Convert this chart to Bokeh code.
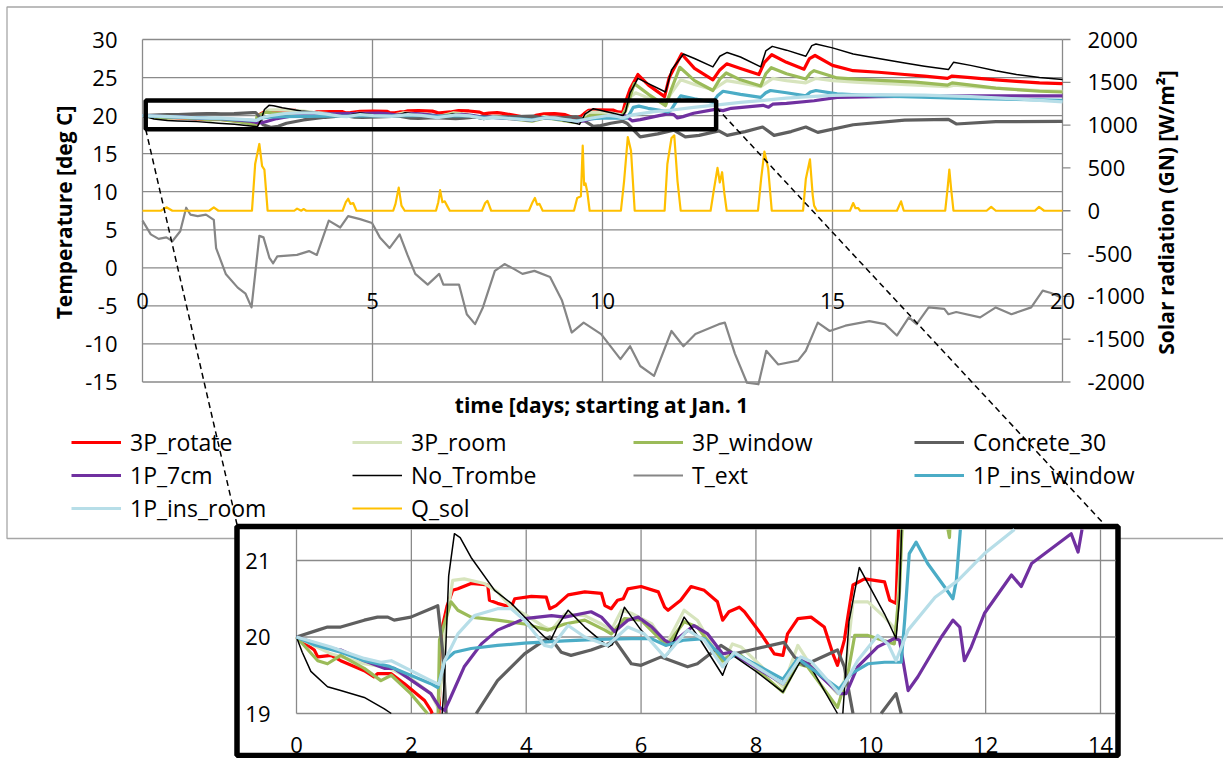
import math
import numpy as np
from bokeh.plotting import figure
from bokeh.models import Range1d, Legend, LegendItem
from bokeh.core.properties import value
from bokeh.embed import file_html
from bokeh.resources import INLINE

# ---------------- data (day, value) ----------------
ROTATE = [(0, 20.0), (0.31, 19.83), (0.37, 19.74), (0.6, 19.76), (0.77, 19.69), (1.18, 19.56), (1.35, 19.48),
          (1.41, 19.52), (1.65, 19.52), (1.88, 19.39), (2.23, 19.17), (2.34, 19.04), (2.42, 18.9), (2.47, 18.8),
          (2.5, 19.4), (2.53, 20.1), (2.62, 20.4), (2.72, 20.61), (2.81, 20.63), (3.04, 20.7), (3.33, 20.68),
          (3.36, 20.48), (3.5, 20.44), (3.74, 20.39), (3.8, 20.5), (4.09, 20.53), (4.35, 20.52), (4.41, 20.37),
          (4.52, 20.41), (4.73, 20.55), (5.02, 20.59), (5.31, 20.57), (5.37, 20.41), (5.48, 20.37), (5.59, 20.48),
          (5.69, 20.5), (5.77, 20.63), (6.0, 20.66), (6.3, 20.59), (6.41, 20.39), (6.47, 20.35), (6.69, 20.48),
          (6.87, 20.66), (7.1, 20.61), (7.33, 20.46), (7.42, 20.22), (7.53, 20.33), (7.71, 20.39), (7.8, 20.33),
          (8.09, 20.04), (8.32, 19.78), (8.47, 19.76), (8.55, 20.04), (8.73, 20.24), (8.96, 20.26), (9.19, 20.13),
          (9.34, 19.78), (9.42, 19.63), (9.54, 19.96), (9.6, 20.26), (9.69, 20.68), (9.89, 20.76), (10.24, 20.72),
          (10.33, 20.48), (10.44, 20.44), (10.5, 21.8), (10.6, 23.5), (10.77, 25.4), (11.0, 24.0), (11.35, 22.5),
          (11.45, 25.0), (11.72, 28.1), (12.0, 26.2), (12.4, 24.7), (12.55, 26.0), (12.7, 26.8), (13.0, 26.2),
          (13.4, 25.4), (13.52, 27.0), (13.68, 28.0), (14.0, 27.0), (14.38, 26.1), (14.5, 27.5), (14.62, 27.9),
          (15.0, 26.6), (15.45, 25.9), (16.0, 25.7), (16.57, 25.4), (17.0, 25.2), (17.5, 24.9), (17.6, 25.2),
          (18.0, 25.0), (18.55, 24.7), (19.0, 24.5), (19.5, 24.3), (20.0, 24.2)]

ROOM = [(0, 20.0), (0.6, 19.78), (1.18, 19.65), (1.59, 19.6), (2.0, 19.45), (2.34, 19.26), (2.46, 19.08),
        (2.52, 19.4), (2.58, 20.09), (2.72, 20.74), (2.92, 20.76), (3.27, 20.7), (3.5, 20.59), (3.74, 20.39),
        (3.97, 20.3), (4.32, 20.13), (4.44, 20.09), (4.67, 20.3), (5.02, 20.28), (5.31, 20.17), (5.48, 20.09),
        (5.66, 20.35), (5.83, 20.31), (6.19, 20.17), (6.43, 19.89), (6.75, 20.35), (6.98, 20.22), (7.42, 19.65),
        (7.59, 19.91), (7.74, 19.87), (8.47, 19.35), (8.73, 19.89), (8.9, 19.69), (9.42, 19.26), (9.54, 19.43),
        (9.69, 20.46), (9.95, 20.46), (10.24, 20.26), (10.44, 20.09), (10.5, 20.8), (10.62, 22.5), (10.72, 23.0),
        (11.0, 22.3), (11.37, 21.6), (11.5, 23.0), (11.7, 24.7), (12.0, 24.1), (12.4, 23.4), (12.7, 24.6),
        (13.0, 24.3), (13.44, 23.8), (13.7, 24.9), (14.0, 24.6), (14.42, 24.3), (14.64, 24.9), (15.0, 24.6),
        (15.5, 24.4), (16.5, 24.1), (17.5, 23.8), (17.65, 24.0), (18.5, 23.6), (19.5, 23.3), (20.0, 23.2)]

WINDOW = [(0, 20.0), (0.37, 19.69), (0.54, 19.65), (0.77, 19.76), (1.18, 19.59), (1.47, 19.43), (1.65, 19.5),
          (1.99, 19.26), (2.28, 19.0), (2.4, 18.8), (2.46, 18.75), (2.49, 19.96), (2.69, 20.46), (2.81, 20.35),
          (3.04, 20.26), (3.5, 20.22), (3.97, 20.17), (4.38, 20.09), (4.67, 20.17), (5.02, 20.22), (5.37, 20.09),
          (5.48, 20.04), (5.71, 20.24), (6.0, 20.22), (6.35, 19.96), (6.47, 19.91), (6.75, 20.2), (6.98, 20.13),
          (7.42, 19.69), (7.59, 19.78), (7.74, 19.76), (8.47, 19.28), (8.73, 19.65), (8.9, 19.61), (9.42, 19.08),
          (9.6, 19.52), (9.72, 20.02), (9.95, 20.02), (10.41, 19.91), (10.5, 20.6), (10.6, 22.5), (10.69, 24.2),
          (11.0, 22.8), (11.37, 21.3), (11.5, 23.5), (11.68, 26.35), (12.0, 24.6), (12.4, 23.3), (12.55, 24.8),
          (12.69, 25.6), (13.0, 24.7), (13.44, 23.9), (13.55, 25.5), (13.67, 26.3), (14.0, 25.5), (14.42, 24.8),
          (14.52, 25.6), (14.6, 25.9), (15.1, 24.95), (15.5, 24.8), (16.8, 24.4), (17.5, 24.0), (17.6, 24.3),
          (18.55, 23.6), (19.5, 23.2), (20.0, 23.1)]

CONCRETE = [(0, 20.0), (0.37, 20.09), (0.54, 20.13), (0.77, 20.13), (1.18, 20.22), (1.41, 20.26), (1.59, 20.26),
            (1.7, 20.22), (1.99, 20.26), (2.4, 20.39), (2.46, 20.41), (2.55, 19.78), (2.62, 18.8), (2.8, 18.45),
            (2.95, 18.6), (3.13, 19.0), (3.5, 19.43), (3.97, 19.78), (4.32, 19.96), (4.41, 20.0), (4.61, 19.8),
            (4.78, 19.76), (5.13, 19.83), (5.42, 19.91), (5.55, 19.95), (5.83, 19.65), (6.0, 19.63), (6.35, 19.74),
            (6.81, 19.61), (6.98, 19.65), (7.39, 19.89), (7.62, 19.78), (7.91, 19.83), (8.49, 19.93), (8.67, 19.74),
            (8.84, 19.63), (9.42, 19.83), (9.54, 19.61), (9.69, 19.0), (9.8, 18.6), (9.96, 18.68), (10.18, 19.0),
            (10.44, 19.26), (10.53, 19.0), (10.82, 17.2), (11.2, 17.6), (11.55, 18.1), (11.8, 17.2), (12.1, 17.4),
            (12.53, 18.0), (12.71, 17.4), (13.1, 17.9), (13.48, 18.5), (13.73, 17.4), (14.1, 17.9), (14.42, 18.5),
            (14.68, 17.8), (15.45, 18.8), (16.57, 19.4), (17.52, 19.5), (17.69, 18.9), (18.55, 19.2), (20.0, 19.25)]

P7CM = [(0, 20.0), (0.6, 19.85), (0.77, 19.83), (1.18, 19.69), (1.53, 19.59), (1.7, 19.59), (2.34, 19.26),
        (2.49, 19.08), (2.58, 19.04), (2.66, 19.17), (2.92, 19.61), (3.22, 19.91), (3.5, 20.09), (3.97, 20.24),
        (4.44, 20.28), (4.67, 20.26), (5.13, 20.33), (5.31, 20.26), (5.54, 20.07), (5.77, 20.22), (5.95, 20.26),
        (6.19, 20.13), (6.41, 19.96), (6.52, 19.91), (6.92, 20.15), (7.16, 20.04), (7.42, 19.78), (7.56, 19.8),
        (8.47, 19.39), (8.73, 19.72), (8.9, 19.65), (9.45, 19.26), (9.57, 19.26), (9.77, 19.61), (10.12, 19.87),
        (10.41, 19.98), (10.5, 19.96), (10.65, 19.3), (10.82, 19.48), (11.23, 20.0), (11.43, 20.22), (11.55, 20.13),
        (11.63, 19.69), (11.75, 19.87), (11.98, 20.31), (12.45, 20.81), (12.62, 20.66), (12.8, 20.96),
        (13.49, 21.35), (13.61, 21.11), (13.7, 21.5), (14.0, 21.6), (14.6, 21.95), (15.1, 22.4), (16.0, 22.5),
        (17.0, 22.55), (18.0, 22.6), (19.0, 22.6), (20.0, 22.6)]

NO_TROMBE = [(0, 20.0), (0.1, 19.8), (0.25, 19.55), (0.54, 19.35), (0.77, 19.3), (1.18, 19.21), (1.53, 19.06),
             (1.65, 19.0), (2.0, 18.85), (2.4, 18.6), (2.5, 18.55), (2.58, 19.5), (2.65, 20.8), (2.75, 21.35),
             (2.85, 21.3), (3.04, 21.04), (3.45, 20.61), (3.74, 20.44), (4.09, 20.17), (4.32, 20.0), (4.42, 19.95),
             (4.55, 20.15), (4.73, 20.35), (5.02, 20.13), (5.43, 19.87), (5.5, 19.9), (5.71, 20.39), (6.0, 20.09),
             (6.41, 19.74), (6.47, 19.78), (6.75, 20.26), (7.0, 20.0), (7.42, 19.5), (7.56, 19.78), (8.0, 19.55),
             (8.47, 19.28), (8.78, 19.69), (8.96, 19.6), (9.42, 19.0), (9.5, 18.85), (9.62, 20.2), (9.8, 20.91),
             (10.24, 20.3), (10.44, 19.98), (10.5, 20.5), (10.6, 23.0), (10.77, 24.9), (11.0, 24.2), (11.37, 23.1),
             (11.5, 26.0), (11.76, 28.1), (12.0, 27.5), (12.4, 26.4), (12.55, 27.8), (12.71, 28.3), (13.0, 27.7),
             (13.44, 26.4), (13.55, 28.5), (13.69, 29.1), (14.0, 28.6), (14.42, 27.8), (14.55, 29.2), (14.64, 29.4),
             (15.0, 28.9), (15.45, 28.1), (16.0, 27.5), (16.57, 26.9), (17.0, 26.5), (17.52, 26.05), (17.63, 27.0),
             (18.0, 26.6), (18.55, 25.9), (19.0, 25.4), (19.5, 25.0), (20.0, 24.74)]

T_EXT = [(0.0, 6.2), (0.18, 4.4), (0.35, 3.8), (0.52, 4.0), (0.65, 3.5), (0.82, 4.8), (0.95, 7.9), (1.04, 7.0),
         (1.2, 6.8), (1.38, 7.0), (1.55, 6.3), (1.6, 2.6), (1.81, -0.8), (2.07, -2.6), (2.24, -3.4), (2.37, -5.2),
         (2.45, -0.8), (2.54, 4.2), (2.63, 4.0), (2.76, 1.3), (2.84, 0.6), (2.93, 1.5), (3.36, 1.7), (3.62, 2.2),
         (3.79, 1.7), (4.05, 6.2), (4.3, 5.3), (4.47, 6.8), (4.73, 6.4), (4.99, 5.9), (5.16, 4.0), (5.37, 2.6),
         (5.59, 4.4), (5.76, 1.7), (5.93, -0.8), (6.2, -2.2), (6.45, -0.8), (6.54, -2.2), (6.88, -2.2), (7.05, -6.1),
         (7.23, -7.4), (7.4, -5.2), (7.66, -0.4), (7.87, 0.5), (8.09, -0.2), (8.26, -0.8), (8.52, -0.4),
         (8.86, -1.2), (9.12, -4.3), (9.33, -8.5), (9.59, -7.2), (9.97, -8.7), (10.39, -12.0), (10.6, -10.3),
         (10.82, -12.9), (11.12, -14.2), (11.5, -8.3), (11.76, -10.3), (12.02, -8.7), (12.53, -7.4), (12.66, -7.2),
         (12.88, -11.3), (13.14, -15.1), (13.39, -15.3), (13.56, -10.9), (13.82, -12.7), (14.25, -12.2),
         (14.42, -10.9), (14.68, -7.2), (14.94, -8.3), (15.28, -7.6), (15.8, -7.0), (16.14, -7.4), (16.4, -8.9),
         (16.66, -6.5), (16.83, -7.4), (17.09, -5.2), (17.43, -5.4), (17.52, -6.1), (17.69, -5.8), (18.21, -6.5),
         (18.55, -5.2), (18.89, -6.1), (19.32, -5.2), (19.57, -3.0), (19.75, -3.3), (19.97, -3.9)]

INS_WINDOW = [(0, 20.0), (0.3, 19.9), (0.77, 19.8), (1.18, 19.69), (1.6, 19.62), (2.34, 19.39), (2.46, 19.34),
              (2.58, 19.69), (2.75, 19.8), (3.04, 19.85), (3.5, 19.89), (3.97, 19.92), (4.67, 19.95), (5.25, 19.97),
              (5.83, 19.98), (6.17, 19.98), (6.43, 19.89), (6.75, 19.96), (7.1, 19.98), (7.48, 19.69), (7.65, 19.78),
              (8.47, 19.45), (8.73, 19.72), (9.45, 19.32), (9.66, 19.52), (9.95, 19.65), (10.24, 19.67),
              (10.53, 19.67), (10.59, 20.22), (10.67, 21.09), (10.79, 21.24), (10.99, 20.96), (11.28, 20.66),
              (11.43, 20.5), (11.49, 20.74), (11.58, 21.6), (11.7, 22.6), (12.0, 22.2), (12.4, 21.75), (12.5, 22.6),
              (12.62, 23.2), (13.0, 22.8), (13.44, 22.4), (13.55, 23.0), (13.65, 23.3), (14.0, 23.0), (14.42, 22.6),
              (14.52, 23.1), (14.64, 23.3), (15.1, 22.85), (15.96, 22.6), (17.7, 22.3), (20.0, 22.0)]

INS_ROOM = [(0, 20.0), (0.6, 19.87), (1.18, 19.72), (1.47, 19.67), (1.65, 19.69), (2.34, 19.43), (2.48, 19.38),
            (2.58, 19.69), (2.81, 20.04), (3.1, 20.28), (3.5, 20.37), (3.74, 20.37), (3.97, 20.22), (4.32, 19.89),
            (4.44, 19.87), (4.73, 20.15), (5.02, 20.0), (5.42, 19.89), (5.77, 20.13), (6.06, 20.04), (6.41, 19.74),
            (6.81, 20.09), (7.1, 19.96), (7.42, 19.61), (7.62, 19.8), (8.47, 19.39), (8.78, 19.74), (8.96, 19.68),
            (9.45, 19.26), (9.77, 19.69), (10.12, 20.02), (10.3, 19.91), (10.44, 19.69), (10.65, 20.09),
            (11.12, 20.52), (11.52, 20.74), (11.98, 21.09), (12.56, 21.44), (13.0, 21.75), (13.5, 22.0),
            (14.0, 22.3), (14.5, 22.5), (15.0, 22.65), (16.0, 22.75), (17.0, 22.7), (18.0, 22.5), (19.0, 22.2),
            (20.0, 21.8)]

Q_SOL = [(0, 0), (0.4, 0), (0.52, 40), (0.65, 0), (1.45, 0), (1.55, 40), (1.65, 0), (2.38, 0), (2.45, 550),
         (2.54, 780), (2.6, 520), (2.65, 480), (2.72, 0), (3.3, 0), (3.36, 25), (3.45, 0), (3.5, 20), (3.56, 0),
         (4.35, 0), (4.42, 100), (4.47, 140), (4.52, 80), (4.58, 90), (4.65, 0), (5.45, 0), (5.5, 80), (5.57, 270),
         (5.63, 60), (5.7, 0), (6.38, 0), (6.43, 100), (6.47, 240), (6.52, 100), (6.57, 110), (6.62, 60),
         (6.68, 0), (7.38, 0), (7.45, 90), (7.5, 115), (7.58, 0), (8.4, 0), (8.48, 100), (8.53, 150), (8.58, 70),
         (8.63, 80), (8.7, 0), (9.38, 0), (9.45, 150), (9.53, 170), (9.57, 760), (9.6, 300), (9.63, 320),
         (9.67, 220), (9.72, 0), (10.4, 0), (10.47, 350), (10.55, 860), (10.62, 700), (10.7, 0), (11.35, 0),
         (11.41, 546), (11.5, 850), (11.56, 880), (11.63, 350), (11.7, 0), (12.35, 0), (12.42, 240), (12.5, 500),
         (12.55, 330), (12.6, 450), (12.65, 200), (12.7, 0), (13.38, 0), (13.45, 380), (13.52, 690), (13.6, 500),
         (13.68, 0), (14.36, 0), (14.42, 370), (14.51, 600), (14.57, 180), (14.6, 60), (14.66, 0), (15.38, 0),
         (15.45, 90), (15.5, 30), (15.56, 30), (15.6, 0), (16.4, 0), (16.49, 110), (16.55, 0), (17.45, 0),
         (17.5, 250), (17.54, 480), (17.58, 250), (17.63, 0), (18.35, 0), (18.45, 45), (18.55, 0), (19.4, 0),
         (19.49, 45), (19.6, 0), (20.0, 0)]

SERIES = ["3P_rotate", "3P_room", "3P_window", "Concrete_30", "1P_7cm", "No_Trombe", "T_ext",
          "1P_ins_window", "1P_ins_room", "Q_sol"]
DATA = [ROTATE, ROOM, WINDOW, CONCRETE, P7CM, NO_TROMBE, T_EXT, INS_WINDOW, INS_ROOM, Q_SOL]
COLORS = ["#ff0000", "#d7e4bd", "#9bbb59", "#5f5f5f", "#7030a0", "#000000", "#868686",
          "#4bacc6", "#b7dee8", "#ffc000"]
WIDTHS = [3.2, 3.2, 3.2, 3.2, 3.2, 1.5, 2.2, 3.2, 3.2, 2.2]
INSET_SERIES = ["3P_rotate", "3P_room", "3P_window", "Concrete_30", "1P_7cm", "No_Trombe",
                "1P_ins_window", "1P_ins_room"]

X_TICKS = [0, 5, 10, 15, 20]
T_TICKS = [30, 25, 20, 15, 10, 5, 0, -5, -10, -15]
Q_TICKS = [2000, 1500, 1000, 500, 0, -500, -1000, -1500, -2000]
X_AXIS_CROSS_Q = -1000
ZOOM_DAYS = [0.07, 12.47]
ZOOM_TEMPS = [18.2, 22.0]
ZOOM_LINK_T = 21.1
I_X_TICKS = [0, 2, 4, 6, 8, 10, 12, 14]
I_T_TICKS = [19, 20, 21]
I_DAYS = [0, 14.26]
I_TEMPS = [19, 21.405]

# ---------------- layout ----------------
FONT = "Open Sans"
W, H = 1223, 758
OX, OY = 0, 0
GRID = "#8a8a8a"

p = figure(width=W, height=H, x_range=Range1d(OX, OX + W), y_range=Range1d(OY + H, OY),
           x_axis_location=None, y_axis_location=None, toolbar_location=None,
           output_backend="svg", min_border=0, title=None)
p.xgrid.visible = False
p.ygrid.visible = False
p.outline_line_color = None


def lin_range(va, pa, vb, pb, lo, hi):
    k = (vb - va) / (pb - pa)
    return Range1d(start=va + k * (lo - pa), end=va + k * (hi - pa))


# main: day 0 -> px 142, day 20 -> px 1062 ; T 30 -> py 39, T -15 -> py 381.5
MAIN_PX = (142, 1062)
MAIN_PY = (39, 381.5)
INS_PX = (296, 1100)
INS_PY = (560, 713)   # T 21, T 19
p.extra_x_ranges = {
    "mx": lin_range(0, MAIN_PX[0], 20, MAIN_PX[1], OX, OX + W),
    "ix": lin_range(0, INS_PX[0], 14, INS_PX[1], OX, OX + W),
}
p.extra_y_ranges = {
    "my": lin_range(30, MAIN_PY[0], -15, MAIN_PY[1], OY + H, OY),
    "qy": lin_range(2000, MAIN_PY[0], -2000, MAIN_PY[1], OY + H, OY),
    "iy": lin_range(21, INS_PY[0], 19, INS_PY[1], OY + H, OY),
}


def main_px(d):
    return MAIN_PX[0] + (MAIN_PX[1] - MAIN_PX[0]) * d / 20.0


def main_py(t):
    return MAIN_PY[0] + (MAIN_PY[1] - MAIN_PY[0]) * (30 - t) / 45.0


# outer chart border
p.quad(left=[6.5], right=[1240], top=[6.5], bottom=[538], fill_color=None,
       line_color="#a6a6a6", line_width=1.3)

# main grid
p.segment(x0=X_TICKS, y0=[-15] * len(X_TICKS), x1=X_TICKS, y1=[30] * len(X_TICKS),
          x_range_name="mx", y_range_name="my", line_color=GRID, line_width=1.3)
p.segment(x0=[0] * len(T_TICKS), y0=T_TICKS, x1=[20] * len(T_TICKS), y1=T_TICKS,
          x_range_name="mx", y_range_name="my", line_color=GRID, line_width=1.3)
p.ray(x=[20] * len(Q_TICKS), y=Q_TICKS, length=8, length_units="screen", angle=0,
      x_range_name="mx", y_range_name="qy", line_color=GRID, line_width=1.3)

# main series
renderers = {}
for name, dat, col, lw in zip(SERIES, DATA, COLORS, WIDTHS):
    arr = np.array(dat, dtype=float)
    yr = "qy" if name == "Q_sol" else "my"
    renderers[name] = p.line(arr[:, 0], arr[:, 1], x_range_name="mx", y_range_name=yr,
                             line_color=col, line_width=lw, line_join="round")

# zoom rectangle
p.quad(left=[ZOOM_DAYS[0]], right=[ZOOM_DAYS[1]], bottom=[ZOOM_TEMPS[0]], top=[ZOOM_TEMPS[1]],
       x_range_name="mx", y_range_name="my", fill_color=None, line_color="black", line_width=4.5)

# tick labels
TXT = dict(text_font=value(FONT), text_font_size="22px", text_color="black", text_baseline="middle")
p.text(x=[0] * len(T_TICKS), y=T_TICKS, text=[str(t) for t in T_TICKS], x_range_name="mx",
       y_range_name="my", x_offset=-25, text_align="right", **TXT)
p.text(x=[20] * len(Q_TICKS), y=Q_TICKS, text=[str(q) for q in Q_TICKS], x_range_name="mx",
       y_range_name="qy", x_offset=25, text_align="left", **TXT)
p.text(x=X_TICKS, y=[X_AXIS_CROSS_Q] * len(X_TICKS), text=[str(x) for x in X_TICKS],
       x_range_name="mx", y_range_name="qy", y_offset=5, text_align="center", **TXT)

# axis titles
TTL = dict(text_font=value(FONT), text_font_size="21px", text_font_style="bold", text_color="black",
           text_baseline="middle", text_align="center")
p.text(x=[63], y=[212], text=["Temperature [deg C]"], angle=math.pi / 2, **TTL)
p.text(x=[1165], y=[212], text=["Solar radiation (GN) [W/m\u00b2]"], angle=math.pi / 2, **TTL)
p.text(x=[601], y=[404], text=["time [days; starting at Jan. 1"], **TTL)

# inset box
BOX = dict(left=236.5, right=1117.5, top=526, bottom=755)
p.quad(left=[BOX["left"]], right=[BOX["right"]], top=[BOX["top"]], bottom=[BOX["bottom"]],
       fill_color="white", line_color="black", line_width=5.5)

# dashed links
p.line([main_px(ZOOM_DAYS[0]), BOX["left"]], [main_py(ZOOM_TEMPS[0]), BOX["top"] - 2],
       line_color="black", line_width=1.5, line_dash="6 4")
p.line([main_px(ZOOM_DAYS[1]), 1104], [main_py(ZOOM_LINK_T), BOX["top"] - 2],
       line_color="black", line_width=1.5, line_dash="6 4")

# inset grid
p.segment(x0=I_X_TICKS, y0=[I_TEMPS[0]] * len(I_X_TICKS), x1=I_X_TICKS, y1=[I_TEMPS[1]] * len(I_X_TICKS),
          x_range_name="ix", y_range_name="iy", line_color=GRID, line_width=1.3)
p.segment(x0=[I_DAYS[0]] * len(I_T_TICKS), y0=I_T_TICKS, x1=[I_DAYS[1]] * len(I_T_TICKS), y1=I_T_TICKS,
          x_range_name="ix", y_range_name="iy", line_color=GRID, line_width=1.3)


def clip_poly(xs, ys, xlo, xhi, ylo, yhi):
    ox, oy = [], []
    last = None
    for i in range(len(xs) - 1):
        x0, y0, x1, y1 = xs[i], ys[i], xs[i + 1], ys[i + 1]
        dx, dy = x1 - x0, y1 - y0
        t0, t1 = 0.0, 1.0
        ok = True
        for pp, qq in ((-dx, x0 - xlo), (dx, xhi - x0), (-dy, y0 - ylo), (dy, yhi - y0)):
            if pp == 0:
                if qq < 0:
                    ok = False
                    break
                continue
            r = qq / pp
            if pp < 0:
                if r > t1:
                    ok = False
                    break
                t0 = max(t0, r)
            else:
                if r < t0:
                    ok = False
                    break
                t1 = min(t1, r)
        if not ok or t1 < t0:
            continue
        ax, ay = x0 + t0 * dx, y0 + t0 * dy
        bx, by = x0 + t1 * dx, y0 + t1 * dy
        if last is None or abs(last[0] - ax) > 1e-9 or abs(last[1] - ay) > 1e-9:
            if ox:
                ox.append(float("nan"))
                oy.append(float("nan"))
            ox.append(ax)
            oy.append(ay)
        ox.append(bx)
        oy.append(by)
        last = (bx, by)
    return ox, oy


for name, dat, col, lw in zip(SERIES, DATA, COLORS, WIDTHS):
    if name not in INSET_SERIES:
        continue
    arr = np.array(dat, dtype=float)
    cx, cy = clip_poly(arr[:, 0], arr[:, 1], I_DAYS[0], I_DAYS[1], I_TEMPS[0], I_TEMPS[1])
    p.line(cx, cy, x_range_name="ix", y_range_name="iy", line_color=col, line_width=lw, line_join="round")

p.text(x=[0] * len(I_T_TICKS), y=I_T_TICKS, text=[str(t) for t in I_T_TICKS], x_range_name="ix",
       y_range_name="iy", x_offset=-26, text_align="right", **TXT)
p.text(x=I_X_TICKS, y=[I_TEMPS[0]] * len(I_X_TICKS), text=[str(x) for x in I_X_TICKS],
       x_range_name="ix", y_range_name="iy", y_offset=31, text_align="center", **TXT)

# legend
legend = Legend(items=[LegendItem(label=n, renderers=[renderers[n]]) for n in SERIES],
                location=(71, 234), orientation="horizontal", ncols=4,
                label_text_font=FONT, label_text_font_size="23px", label_text_color="black",
                glyph_width=50, glyph_height=22, label_standoff=9, label_width=221, label_height=22,
                spacing=1, padding=0, margin=0, border_line_color=None, background_fill_alpha=0)
p.add_layout(legend, "center")

open("out.html", "w").write(file_html(p, INLINE))
